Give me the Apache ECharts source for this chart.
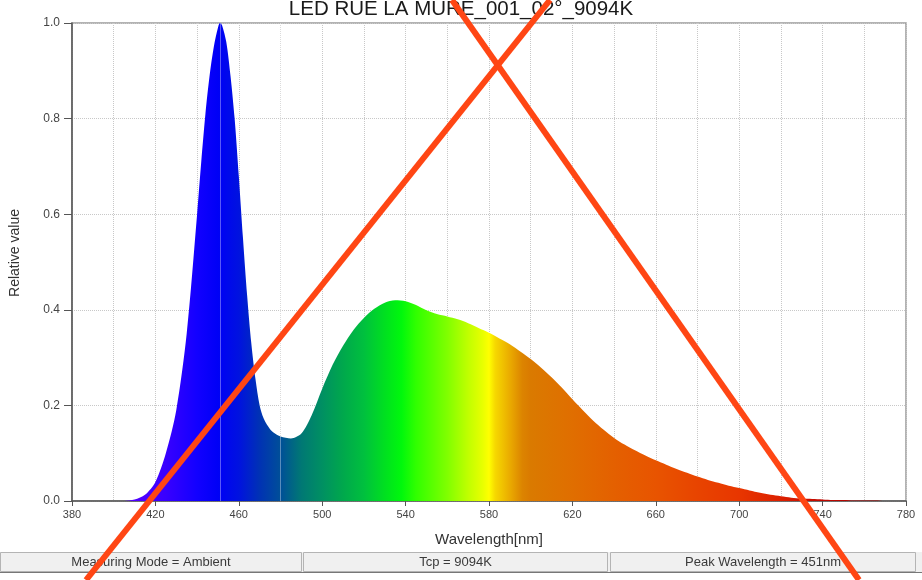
<!DOCTYPE html>
<html>
<head>
<meta charset="utf-8">
<script src="https://cdn.jsdelivr.net/npm/echarts@6/dist/echarts.min.js"></script>
<style>
html,body{margin:0;padding:0;background:#fff;}
#chart{width:922px;height:580px;}
</style>
</head>
<body>
<div id="chart"></div>
<script>
// ---- data ----
const titleText = 'LED RUE LA MURE_001_02°_9094K';
const wavelengths = [380,400,405,410,415,420,425,430,435,440,442,444,446,448,450,451,452,454,456,458,460,462,464,466,468,470,472,475,477,480,485,490,495,500,505,510,515,520,525,530,535,540,545,550,555,560,565,570,575,580,585,590,595,600,605,610,615,620,625,630,635,640,645,650,655,660,665,670,675,680,685,690,695,700,705,710,715,720,725,730,735,740,745,750,755,760,765,770,780];
const relValues = [0,0,0,0.003,0.013,0.04,0.1,0.19,0.35,0.6,0.71,0.81,0.89,0.95,0.99,1.0,0.995,0.96,0.89,0.8,0.68,0.55,0.43,0.33,0.255,0.2,0.172,0.15,0.142,0.135,0.131,0.141,0.18,0.235,0.285,0.325,0.358,0.383,0.402,0.415,0.42,0.418,0.41,0.399,0.391,0.386,0.38,0.372,0.362,0.352,0.34,0.328,0.313,0.297,0.279,0.259,0.237,0.213,0.19,0.168,0.149,0.132,0.118,0.106,0.095,0.085,0.076,0.067,0.059,0.051,0.044,0.038,0.032,0.027,0.022,0.017,0.013,0.01,0.007,0.005,0.004,0.003,0.002,0.002,0.001,0.001,0.001,0,0];
const statusTexts = ['Measuring Mode = Ambient', 'Tcp = 9094K', 'Peak Wavelength = 451nm'];
const markWavelengths = [451, 480];
const xMin = 380, xMax = 780;
// spectral colour stops (wavelength, colour)
const specNm =    [380,415,425,440,450,460,470,480,490,500,510,520,530,538,545,560,570,577,580,583,590,596,600,620,640,660,680,700,720,740,780];
const specColor = ['#6a00ff','#4a00ff','#3800ff','#1200ff','#0000f6','#0012e0','#0032b4','#004f98','#007874','#009062','#00a84c','#00c03e','#00e020','#00f80c','#30ff00','#80ff00','#c0ff00','#e8ff00','#ffff00','#f6d800','#eaab00','#dc8400','#da7a00','#e06e00','#e46000','#e85400','#e84400','#e83600','#dc2000','#c00800','#900000'];

const chart = echarts.init(document.getElementById('chart'));
const stops = specNm.map((n, i) => ({offset: (n - xMin) / (xMax - xMin), color: specColor[i]}));
const seriesData = wavelengths.map((w, i) => [w, relValues[i]]);
const font = 'Liberation Sans, Arial, sans-serif';

const W = 922;
const boxes = [[0, 302], [303, 608], [610, 916]];
const statusGraphics = [];
statusGraphics.push({type:'rect', shape:{x:0, y:552, width:W, height:20}, style:{fill:'#f0f0f0', stroke:null}, z:100});
boxes.forEach((b, i) => {
  statusGraphics.push({type:'rect', shape:{x:b[0]+0.5, y:552.5, width:b[1]-b[0]-1, height:19}, style:{fill:'#f0f0f0', stroke:'#b4b4b4', lineWidth:1}, z:101});
  statusGraphics.push({type:'text', x:(b[0]+b[1])/2, y:562, style:{text:statusTexts[i], fill:'#3a3a3a', font:'13px ' + font, textAlign:'center', textVerticalAlign:'middle'}, z:102});
});
statusGraphics.push({type:'line', shape:{x1:0, y1:572.5, x2:W, y2:572.5}, style:{stroke:'#777', lineWidth:1}, z:102});
// overlaid red cross
const crossLines = [[86,580,550,0],[452,0,859,580]];
crossLines.forEach(c => {
  statusGraphics.push({type:'line', shape:{x1:c[0], y1:c[1], x2:c[2], y2:c[3]}, style:{stroke:'#ff4614', lineWidth:6}, z:200});
});

chart.setOption({
  backgroundColor: '#fff',
  animation: false,
  title: {
    text: titleText, left: 'center', top: -1, padding: 0,
    textStyle: {fontFamily: font, fontSize: 20.5, fontWeight: 'normal', color: '#1a1a1a'}
  },
  grid: {left: 71, right: 16, top: 23, bottom: 79, show: true, borderColor: '#9a9a9a', borderWidth: 1.5, backgroundColor: 'transparent'},
  xAxis: {
    type: 'value', min: xMin, max: xMax, interval: 40,
    name: 'Wavelength[nm]', nameLocation: 'middle', nameGap: 31,
    nameTextStyle: {fontFamily: font, fontSize: 15, color: '#333'},
    axisLine: {show: true, lineStyle: {color: '#555', width: 1.5}},
    axisTick: {show: true, length: 5, lineStyle: {color: '#555'}},
    axisLabel: {fontFamily: font, fontSize: 11, color: '#444', margin: 8},
    splitLine: {show: true, lineStyle: {color: '#c8c8c8', type: 'dotted', width: 1}},
    minorTick: {show: false, splitNumber: 2},
    minorSplitLine: {show: true, lineStyle: {color: '#c8c8c8', type: 'dotted', width: 1}}
  },
  yAxis: {
    type: 'value', min: 0, max: 1, interval: 0.2,
    name: 'Relative value', nameLocation: 'middle', nameGap: 50,
    nameTextStyle: {fontFamily: font, fontSize: 14, color: '#333', padding: [0, 0, 0, 18]},
    axisLine: {show: true, lineStyle: {color: '#555', width: 1.5}},
    axisTick: {show: true, length: 8, lineStyle: {color: '#555'}},
    axisLabel: {fontFamily: font, fontSize: 12, color: '#444', margin: 12, formatter: v => v.toFixed(1)},
    splitLine: {show: true, lineStyle: {color: '#c8c8c8', type: 'dotted', width: 1}}
  },
  series: [{
    type: 'line',
    data: seriesData,
    smooth: 0.3,
    symbol: 'none',
    lineStyle: {width: 0},
    areaStyle: {opacity: 1, color: new echarts.graphic.LinearGradient(0, 0, 1, 0, stops)},
    markLine: {
      silent: true, symbol: 'none', label: {show: false},
      lineStyle: {color: 'rgba(255,255,255,0.35)', type: 'solid', width: 1},
      data: markWavelengths.map(w => ({xAxis: w}))
    },
    z: 3
  }],
  graphic: statusGraphics
});
</script>
</body>
</html>
